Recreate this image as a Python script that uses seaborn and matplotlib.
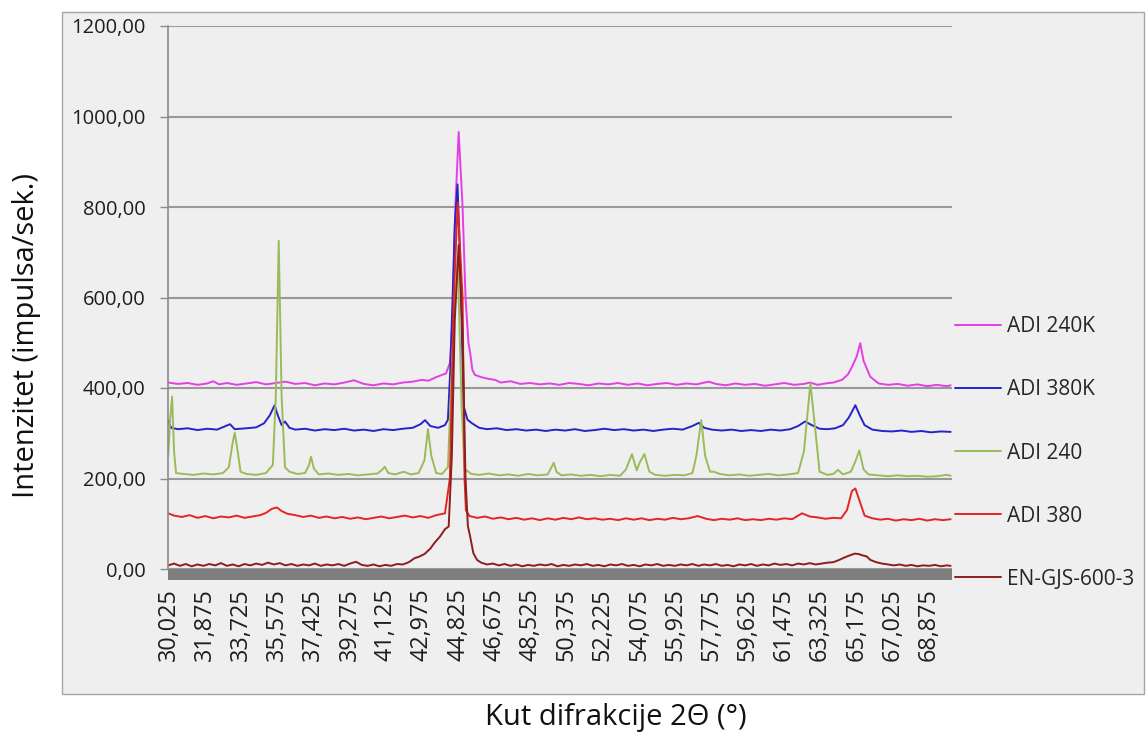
import numpy as np
import pandas as pd
import matplotlib.pyplot as plt
import seaborn as sns
from matplotlib.patches import Rectangle


SERIES = ['ADI 240K', 'ADI 380K', 'ADI 240', 'ADI 380', 'EN-GJS-600-3']
COLORS = ['#E43FE4', '#2424C8', '#9BBB59', '#E42525', '#8B1E1E']

X_TICKS = ['30,025', '31,875', '33,725', '35,575', '37,425', '39,275', '41,125',
           '42,975', '44,825', '46,675', '48,525', '50,375', '52,225', '54,075',
           '55,925', '57,775', '59,625', '61,475', '63,325', '65,175', '67,025',
           '68,875']
Y_TICKS = [0, 200, 400, 600, 800, 1000, 1200]

# (2theta, intenzitet) procitano sa slike
adi_240k = [
    (30.0, 412), (30.5, 409), (31.0, 411), (31.5, 407), (32.0, 410), (32.3, 415),
    (32.6, 408), (33.0, 411), (33.5, 407), (34.0, 410), (34.5, 413), (35.0, 408),
    (35.5, 411), (36.0, 414), (36.5, 409), (37.0, 411), (37.5, 406), (38.0, 410),
    (38.5, 408), (39.0, 412), (39.5, 417), (40.0, 409), (40.5, 406), (41.0, 410),
    (41.5, 408), (42.0, 412), (42.5, 414), (42.97, 418), (43.3, 416), (43.7, 424),
    (44.0, 429), (44.2, 432), (44.4, 455), (44.55, 560), (44.68, 800), (44.85, 966),
    (45.05, 800), (45.2, 600), (45.35, 500), (45.43, 480), (45.55, 440), (45.68, 429),
    (46.0, 424), (46.4, 420), (46.71, 418), (47.0, 412),
    (47.5, 415), (48.0, 409), (48.5, 411), (49.0, 408), (49.5, 410), (50.0, 407),
    (50.5, 411), (51.0, 409), (51.5, 406), (52.0, 410), (52.5, 408), (53.0, 411),
    (53.5, 407), (54.0, 410), (54.5, 406), (55.0, 409), (55.5, 411), (56.0, 407),
    (56.5, 410), (57.0, 408), (57.63, 414), (58.0, 409), (58.5, 406), (59.0, 410),
    (59.5, 407), (60.0, 409), (60.5, 405), (61.0, 408), (61.5, 411), (62.0, 407),
    (62.5, 409), (62.8, 412), (63.2, 407), (63.6, 410), (64.0, 412), (64.45, 418),
    (64.75, 430), (64.96, 447), (65.2, 470), (65.38, 499), (65.55, 460), (65.89, 425),
    (66.32, 410), (66.8, 407), (67.3, 409), (67.8, 405), (68.3, 408), (68.8, 404),
    (69.3, 407), (69.8, 404), (70.0, 406),
]

adi_380k = [
    (30.0, 328), (30.15, 312), (30.5, 309), (31.0, 311), (31.5, 307), (32.0, 310),
    (32.5, 308), (33.16, 320), (33.4, 309), (34.0, 311), (34.5, 313), (34.9, 322),
    (35.2, 340), (35.44, 362), (35.6, 340), (35.8, 318), (35.97, 326), (36.2, 312),
    (36.5, 308), (37.0, 310), (37.5, 306), (38.0, 309), (38.5, 307), (39.0, 310),
    (39.5, 306), (40.0, 308), (40.5, 305), (41.0, 309), (41.5, 307), (42.0, 310),
    (42.5, 312), (42.9, 320), (43.13, 329), (43.4, 316), (43.8, 312), (44.15, 318),
    (44.3, 330), (44.42, 440), (44.54, 600), (44.65, 760), (44.79, 850), (44.95, 650),
    (45.05, 450), (45.11, 359), (45.3, 330),
    (45.53, 322), (45.9, 312), (46.3, 309), (46.8, 311), (47.3, 307), (47.8, 309),
    (48.3, 306), (48.8, 308), (49.3, 305), (49.8, 308), (50.3, 306), (50.8, 309),
    (51.3, 305), (51.8, 307), (52.3, 310), (52.8, 307), (53.3, 309), (53.8, 306),
    (54.3, 308), (54.8, 305), (55.3, 308), (55.8, 310), (56.3, 308), (56.8, 316),
    (57.12, 323), (57.4, 312), (57.8, 308), (58.3, 306), (58.8, 308), (59.3, 305),
    (59.8, 307), (60.3, 305), (60.8, 308), (61.3, 306), (61.8, 309), (62.2, 316),
    (62.56, 326), (62.9, 318), (63.3, 310), (63.7, 309), (64.1, 311), (64.5, 318),
    (64.8, 335), (65.13, 362), (65.35, 340), (65.6, 318), (66.0, 308), (66.5, 305),
    (67.0, 304), (67.5, 306), (68.0, 303), (68.5, 305), (69.0, 302), (69.5, 304),
    (70.0, 303),
]

adi_240 = [
    (30.0, 250), (30.1, 330), (30.2, 381), (30.3, 260), (30.4, 212), (30.8, 210),
    (31.3, 208), (31.8, 211), (32.3, 209), (32.8, 212), (33.1, 225), (33.3, 280),
    (33.4, 301), (33.5, 275), (33.7, 215), (34.0, 210), (34.5, 208), (35.0, 212),
    (35.35, 230), (35.5, 380), (35.65, 725), (35.8, 380), (35.97, 225), (36.2, 215),
    (36.6, 210), (37.0, 212), (37.2, 230), (37.3, 248), (37.45, 222), (37.7, 209),
    (38.2, 211), (38.7, 208), (39.2, 210), (39.7, 207), (40.2, 209), (40.7, 211),
    (40.95, 220), (41.07, 226), (41.25, 212), (41.6, 209), (42.04, 215), (42.4, 209),
    (42.8, 212), (43.1, 240), (43.28, 309), (43.45, 250), (43.7, 212), (44.0, 210),
    (44.3, 225), (44.55, 500), (44.8, 690), (45.0, 360), (45.15, 220), (45.28, 217),
    (45.5, 210), (45.9, 208), (46.4, 211), (46.9, 207), (47.4, 209), (47.9, 206),
    (48.4, 210), (48.9, 207), (49.4, 209), (49.6, 225), (49.71, 235), (49.85, 215),
    (50.1, 207), (50.6, 209), (51.1, 206), (51.6, 208), (52.1, 205), (52.6, 208),
    (53.1, 206), (53.4, 220), (53.71, 254), (53.95, 218), (54.1, 235), (54.34, 254),
    (54.6, 215), (54.9, 208), (55.4, 206), (55.9, 208), (56.4, 207), (56.8, 212),
    (57.0, 250), (57.25, 329), (57.45, 250), (57.7, 215), (57.89, 215), (58.2, 210),
    (58.7, 207), (59.2, 209), (59.7, 206), (60.2, 208), (60.7, 210), (61.2, 207),
    (61.7, 209), (62.2, 212), (62.5, 260), (62.83, 410), (63.1, 300), (63.3, 215),
    (63.7, 208), (64.0, 210), (64.24, 219), (64.5, 209), (64.9, 215), (65.15, 240),
    (65.33, 262), (65.55, 220), (65.8, 209), (66.3, 207), (66.8, 205), (67.3, 207),
    (67.8, 205), (68.3, 206), (68.8, 204), (69.3, 205), (69.8, 208), (70.0, 206),
]

adi_380 = [
    (30.0, 123), (30.3, 118), (30.7, 115), (31.1, 119), (31.5, 113), (31.9, 117),
    (32.3, 112), (32.7, 116), (33.1, 114), (33.5, 118), (33.9, 113), (34.3, 116),
    (34.7, 119), (35.0, 124), (35.3, 133), (35.56, 136), (35.8, 128), (36.1, 122),
    (36.5, 119), (36.9, 115), (37.3, 118), (37.7, 113), (38.1, 116), (38.5, 112),
    (38.9, 115), (39.3, 111), (39.7, 114), (40.1, 110), (40.5, 113), (40.9, 116),
    (41.3, 112), (41.7, 115), (42.1, 118), (42.5, 114), (42.9, 117), (43.3, 113),
    (43.7, 119), (44.15, 123), (44.4, 200), (44.6, 600), (44.8, 810), (45.05, 600),
    (45.15, 200), (45.22, 130), (45.4, 117), (45.8, 113), (46.2, 116), (46.6, 111),
    (47.0, 114), (47.4, 110), (47.8, 113), (48.2, 109), (48.6, 112), (49.0, 108),
    (49.4, 112), (49.8, 109), (50.2, 113), (50.6, 110), (51.0, 114), (51.4, 110),
    (51.8, 112), (52.2, 109), (52.6, 111), (53.0, 108), (53.4, 112), (53.8, 109),
    (54.2, 112), (54.6, 108), (55.0, 111), (55.4, 109), (55.8, 113), (56.2, 110),
    (56.6, 112), (57.07, 117), (57.5, 111), (57.9, 108), (58.3, 111), (58.7, 109),
    (59.1, 112), (59.5, 108), (59.9, 110), (60.3, 108), (60.7, 111), (61.1, 109),
    (61.5, 112), (61.9, 110), (62.4, 123), (62.8, 116), (63.2, 114), (63.6, 111),
    (64.0, 113), (64.4, 112), (64.7, 130), (64.95, 172), (65.13, 178), (65.35, 150),
    (65.6, 118), (66.0, 112), (66.4, 109), (66.8, 111), (67.2, 107), (67.6, 110),
    (68.0, 108), (68.4, 111), (68.8, 107), (69.2, 110), (69.6, 108), (70.0, 110),
]

en_gjs = [
    (30.0, 8), (30.3, 12), (30.6, 7), (30.9, 11), (31.2, 6), (31.5, 10), (31.8, 7),
    (32.1, 11), (32.4, 8), (32.7, 13), (33.0, 7), (33.3, 10), (33.6, 6), (33.9, 11),
    (34.2, 8), (34.5, 12), (34.8, 9), (35.1, 14), (35.4, 10), (35.7, 13), (36.0, 8),
    (36.3, 11), (36.6, 7), (36.9, 10), (37.2, 8), (37.5, 12), (37.8, 7), (38.1, 10),
    (38.4, 8), (38.7, 11), (39.0, 7), (39.3, 12), (39.6, 16), (39.9, 9), (40.2, 7),
    (40.5, 10), (40.8, 6), (41.1, 9), (41.4, 7), (41.7, 11), (42.0, 10), (42.3, 15),
    (42.6, 24), (42.81, 27), (43.1, 33), (43.4, 45), (43.6, 57), (43.9, 72),
    (44.15, 88), (44.34, 94), (44.5, 250), (44.65, 550), (44.85, 716), (45.05, 520),
    (45.2, 200), (45.32, 95), (45.44, 71), (45.6, 35), (45.79, 20), (46.0, 14),
    (46.3, 10), (46.6, 12), (46.9, 8), (47.2, 11), (47.5, 7), (47.8, 10), (48.1, 6),
    (48.4, 9), (48.7, 7), (49.0, 10), (49.3, 8), (49.6, 11), (49.9, 6), (50.2, 9),
    (50.5, 7), (50.8, 10), (51.1, 8), (51.4, 11), (51.7, 7), (52.0, 9), (52.3, 6),
    (52.6, 10), (52.9, 8), (53.2, 11), (53.5, 7), (53.8, 9), (54.1, 6), (54.4, 10),
    (54.7, 8), (55.0, 11), (55.3, 7), (55.6, 9), (55.9, 7), (56.2, 10), (56.5, 8),
    (56.8, 11), (57.1, 7), (57.4, 10), (57.7, 8), (58.0, 11), (58.3, 7), (58.6, 9),
    (58.9, 6), (59.2, 10), (59.5, 8), (59.8, 11), (60.1, 7), (60.4, 10), (60.7, 8),
    (61.0, 12), (61.3, 9), (61.6, 11), (61.9, 8), (62.2, 12), (62.5, 10), (62.8, 13),
    (63.1, 10), (63.4, 12), (63.7, 14), (64.0, 15), (64.3, 20), (64.6, 26), (64.9, 31),
    (65.1, 34), (65.3, 33), (65.5, 30), (65.7, 28), (65.9, 20), (66.2, 15), (66.5, 12),
    (66.8, 10), (67.1, 8), (67.4, 10), (67.7, 7), (68.0, 9), (68.3, 6), (68.6, 8),
    (68.9, 7), (69.2, 9), (69.5, 6), (69.8, 8), (70.0, 7),
]


def build_frame():
    rows = []
    for name, points in zip(SERIES, [adi_240k, adi_380k, adi_240, adi_380, en_gjs]):
        for theta, val in points:
            rows.append({'theta': theta, 'intenzitet': val, 'uzorak': name})
    return pd.DataFrame(rows)


sns.set_style('white')
plt.rcParams['font.family'] = ['Open Sans', 'DejaVu Sans']

df = build_frame()

fig = plt.figure(figsize=(11.46, 7.4), dpi=100)
W, H = 1146, 740

# sivi okvir grafikona
fig.patches.append(Rectangle((62 / W, 1 - 694 / H), (1144 - 62) / W, (694 - 12) / H,
                             transform=fig.transFigure, facecolor='#EFEFEF',
                             edgecolor='#A6A6A6', linewidth=1, zorder=-10))

ax = fig.add_axes([168 / W, 1 - 569 / H, (952 - 168) / W, (569 - 26) / H])
ax.set_facecolor('none')

sns.lineplot(data=df, x='theta', y='intenzitet', hue='uzorak', hue_order=SERIES,
             palette=COLORS, estimator=None, linewidth=1.4, legend=False, ax=ax)

ax.set_xlim(29.99, 70.07)
ax.set_ylim(0, 1200)

ax.set_yticks(Y_TICKS)
ax.set_yticklabels([f'{v:.2f}'.replace('.', ',') for v in Y_TICKS])
ax.set_xticks([float(t.replace(',', '.')) for t in X_TICKS])
ax.set_xticklabels(X_TICKS, rotation=90)

ax.yaxis.grid(True, color='#999999', linewidth=1.5)
ax.xaxis.grid(False)
ax.set_axisbelow(True)

for side in ['top', 'right', 'bottom']:
    ax.spines[side].set_visible(False)
ax.spines['left'].set_color('#8C8C8C')
ax.spines['left'].set_linewidth(1.2)

ax.tick_params(axis='y', left=True, length=6, width=1, color='#8C8C8C', pad=10,
               labelsize=14.5, labelcolor='#1E1E1E')
ax.tick_params(axis='x', bottom=False, length=0, pad=14, labelsize=16.8,
               labelcolor='#1E1E1E')

# tamna traka ispod osi x
ax.add_patch(Rectangle((0, -11 / 543), 1, 11 / 543, transform=ax.transAxes,
                       facecolor='#7F7F7F', edgecolor='none', clip_on=False, zorder=1))

ax.set_xlabel('')
ax.set_ylabel('')
fig.text(27 / W, 1 - 336 / H, 'Intenzitet (impulsa/sek.)', rotation=90,
         ha='center', va='center', fontsize=21, color='#111111')
fig.text(616 / W, 1 - 718 / H, 'Kut difrakcije 2Θ (°)', ha='center', va='center',
         fontsize=21, color='#111111')

handles = ax.get_lines()[:len(SERIES)]
ax.legend(handles, SERIES, loc='center left', bbox_to_anchor=(1.004, 0.2136),
          frameon=False, fontsize=15, handlelength=2.2, handletextpad=0.3,
          labelspacing=2.02, borderpad=0, borderaxespad=0)

plt.savefig('out.png', dpi=100)
plt.close(fig)
